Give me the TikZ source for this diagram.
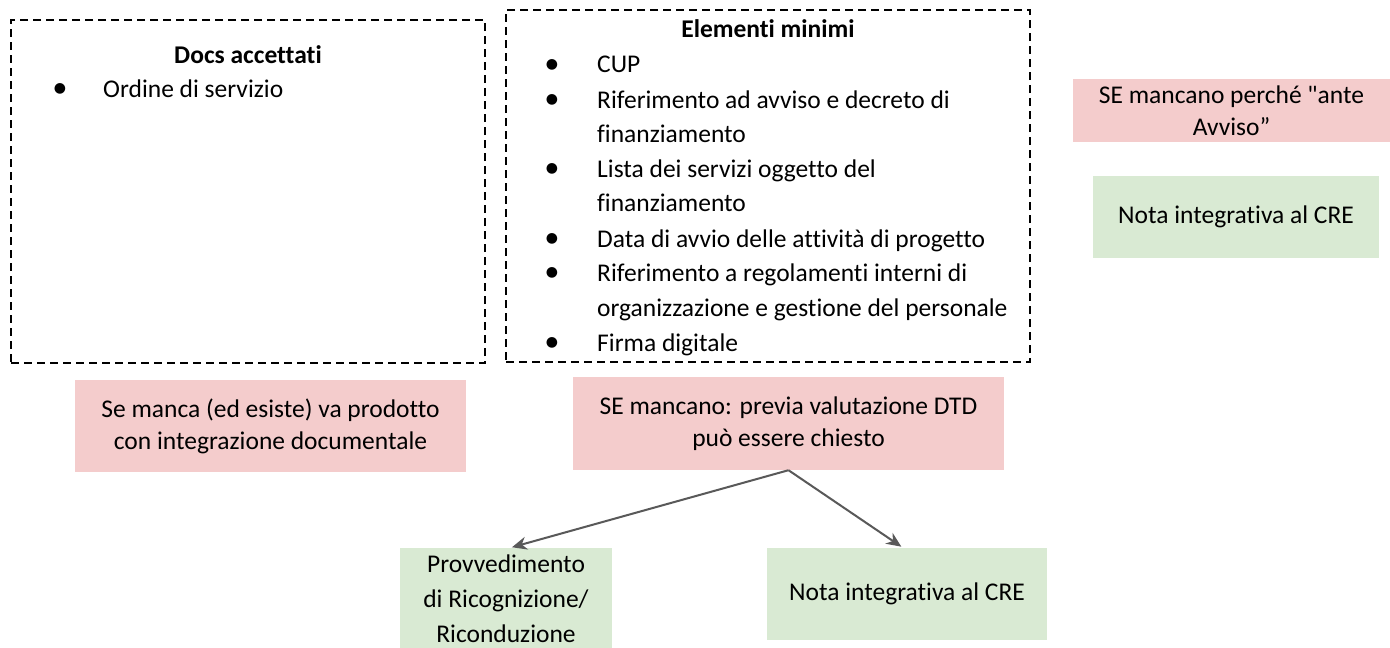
\documentclass[tikz,border=0pt]{standalone}
\usepackage{fontspec}
\setmainfont{Carlito}[Ligatures={TeXOff,CommonOff}]
\newfontfamily\bulletfont{DejaVu Sans}
\usetikzlibrary{arrows.meta}
\definecolor{pinkfill}{HTML}{F4CCCC}
\definecolor{greenfill}{HTML}{D9EAD3}
\definecolor{arrowgray}{HTML}{595959}
\tikzset{
  dashbox/.style={draw=black, line width=1.8pt, dash pattern=on 8pt off 5pt},
  txt/.style={font=\fontsize{25.5}{34}\selectfont, anchor=base west, inner sep=0pt},
  ttl/.style={font=\fontsize{25.5}{34}\selectfont\bfseries, anchor=base, inner sep=0pt},
  bul/.style={font=\bulletfont\fontsize{14}{14}\selectfont, inner sep=0pt},
  pinkbox/.style={fill=pinkfill, draw=none, inner sep=0pt, align=center, font=\fontsize{25.5}{32}\selectfont},
  greenbox/.style={fill=greenfill, draw=none, inner sep=0pt, align=center, font=\fontsize{25.5}{35}\selectfont},
  conn/.style={draw=arrowgray, line width=2pt, -{Stealth[length=15pt,width=13pt]}}
}
\begin{document}
\begin{tikzpicture}[x=1pt,y=-1pt]
\useasboundingbox (0,0) rectangle (1390,648);
\fill[white] (0,0) rectangle (1390,648);
\clip (0,0) rectangle (1390,648);

% Box 1
\node[dashbox, minimum width=474pt, minimum height=343pt, inner sep=0pt] (box1) at (248,191.5) {};
\node[ttl] (t1) at (248,63) {Docs accettati};
\node[bul] (b11) at (60,89) {●};
\node[txt] (l11) at (103,97) {Ordine di servizio};

% Box 2
\node[dashbox, minimum width=524pt, minimum height=352pt, inner sep=0pt] (box2) at (768,186) {};
\node[ttl] (t2) at (768,37) {Elementi minimi};
\node[bul] (b21) at (552,65) {●};
\node[bul] (b22) at (552,100) {●};
\node[bul] (b23) at (552,169) {●};
\node[bul] (b24) at (552,239) {●};
\node[bul] (b25) at (552,273) {●};
\node[bul] (b26) at (552,343) {●};
\node[txt] (l21) at (597,72) {CUP};
\node[txt] (l22) at (597,108) {Riferimento ad avviso e decreto di};
\node[txt] (l23) at (597,142) {finanziamento};
\node[txt] (l24) at (597,177) {Lista dei servizi oggetto del};
\node[txt] (l25) at (597,211) {finanziamento};
\node[txt] (l26) at (597,247) {Data di avvio delle attività di progetto};
\node[txt] (l27) at (597,281) {Riferimento a regolamenti interni di};
\node[txt] (l28) at (597,316) {organizzazione e gestione del personale};
\node[txt] (l29) at (597,351) {Firma digitale};

% Right column
\node[pinkbox, minimum width=317pt, minimum height=63pt] (pr) at (1231.5,110.5) {SE mancano perché "ante\\Avviso”};
\node[greenbox, minimum width=286pt, minimum height=82pt] (gr) at (1236,217) {Nota integrativa al CRE};

% Bottom
\node[pinkbox, minimum width=391pt, minimum height=92pt] (pl) at (270.5,426) {Se manca (ed esiste) va prodotto\\con integrazione documentale};
\node[pinkbox, minimum width=431pt, minimum height=93pt] (pm) at (788.5,423.5) {SE mancano: previa valutazione DTD\\può essere chiesto};
\node[greenbox, minimum width=212pt, minimum height=106pt] (prov) at (506,601) {};
\node[greenbox, anchor=center] (provtxt) at (506,599) {Provvedimento\\di Ricognizione/\\Riconduzione};
\node[greenbox, minimum width=280pt, minimum height=92pt] (nota) at (907,594) {Nota integrativa al CRE};

\draw[conn, shorten >=2pt] (pm.south) -- ([xshift=4pt]prov.north);
\draw[conn, shorten >=2pt] (pm.south) -- ([xshift=-4pt]nota.north);
\end{tikzpicture}
\end{document}
